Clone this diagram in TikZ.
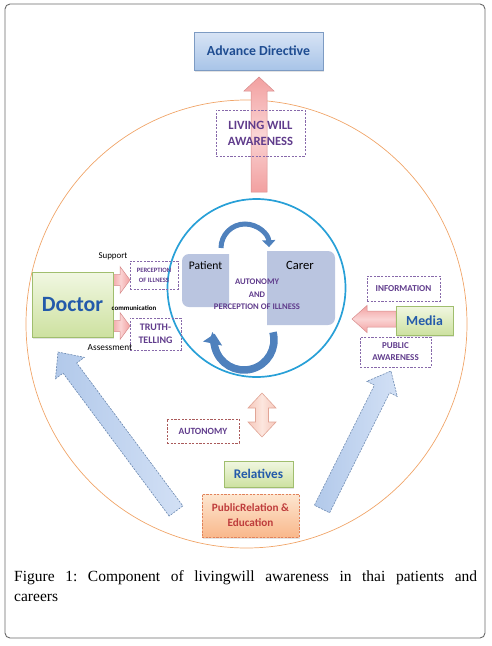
\documentclass[tikz,border=0pt]{standalone}
\usepackage{fontspec}
\setmainfont{Liberation Serif}
\newfontfamily\cbr{Carlito}
\usetikzlibrary{calc,arrows.meta,shadows}
\definecolor{frameg}{RGB}{105,105,105}
\definecolor{orng}{RGB}{240,165,105}
\definecolor{cyanc}{RGB}{40,160,215}
\definecolor{steel}{RGB}{79,129,189}
\definecolor{pbox}{RGB}{186,197,224}
\definecolor{purp}{RGB}{96,60,140}
\definecolor{pdash}{RGB}{135,105,170}
\definecolor{txtblue}{RGB}{35,90,170}
\definecolor{adtop}{RGB}{216,228,245}
\definecolor{adbot}{RGB}{168,196,232}
\definecolor{adline}{RGB}{125,155,195}
\definecolor{grtop}{RGB}{241,247,226}
\definecolor{grbot}{RGB}{205,225,160}
\definecolor{grline}{RGB}{160,190,110}
\definecolor{pkA}{RGB}{242,160,160}
\definecolor{pkB}{RGB}{250,212,212}
\definecolor{pkline}{RGB}{215,140,140}
\definecolor{peA}{RGB}{246,200,188}
\definecolor{peB}{RGB}{252,230,222}
\definecolor{peline}{RGB}{225,165,150}
\definecolor{blA}{RGB}{178,201,234}
\definecolor{blB}{RGB}{210,224,245}
\definecolor{blline}{RGB}{105,135,175}
\definecolor{ortop}{RGB}{253,230,208}
\definecolor{orbot}{RGB}{249,184,140}
\definecolor{orline}{RGB}{225,130,90}
\definecolor{redtxt}{RGB}{190,60,60}
\definecolor{autline}{RGB}{170,90,90}
\tikzset{
  solidbox/.style={draw, line width=0.6pt, inner sep=0pt, align=center},
  shad/.style={drop shadow={opacity=0.22, shadow xshift=1pt, shadow yshift=-1.5pt}},
  adbox/.style={solidbox, shad, draw=adline, top color=adtop, bottom color=adbot,
    font=\cbr\bfseries\fontsize{13.8}{15}\selectfont, text=txtblue!85!black},
  greenbox/.style={solidbox, shad, draw=grline, top color=grtop, bottom color=grbot, text=txtblue},
  orbox/.style={solidbox, shad, draw=orline, dash pattern=on 2.2pt off 1.4pt, top color=ortop, bottom color=orbot,
    text=redtxt, font=\cbr\bfseries\fontsize{11.2}{15}\selectfont},
  dbox/.style={draw=pdash, dash pattern=on 2.2pt off 1.4pt, line width=0.6pt, inner sep=0pt, align=center,
    text=purp, font=\cbr\bfseries\fontsize{8.5}{11}\selectfont},
  ctext/.style={inner sep=0pt, text=purp, font=\cbr\bfseries\fontsize{8.6}{9}\selectfont},
  lbl/.style={inner sep=0pt, text=black, font=\cbr\fontsize{8.9}{9}\selectfont},
  pinkarrow/.style={draw=pkline, line width=0.5pt, left color=pkA, right color=pkA, middle color=pkB},
  vpinkarrow/.style={draw=pkline, line width=0.5pt, top color=pkA, bottom color=pkA, middle color=pkB},
  peacharrow/.style={draw=peline, line width=0.6pt, left color=peA, right color=peA, middle color=peB},
  bluearrow/.style={draw=blline, dash pattern=on 2pt off 1.2pt, line width=0.6pt, left color=blA, right color=blB},
  arcarrow/.style={steel, line cap=butt},
}
% #1 style, #2 tail, #3 tip, #4 shaft half width, #5 head half width, #6 head length, #7 name of head base
\newcommand\blkarrow[7]{%
  \coordinate (#7) at ($(#3)!#6!(#2)$);
  \path[#1] ($(#2)!#4!90:(#3)$) -- ($(#7)!#4!-90:(#2)$) -- ($(#7)!#5!-90:(#2)$) -- (#3)
    -- ($(#7)!#5!90:(#2)$) -- ($(#7)!#4!90:(#2)$) -- ($(#2)!#4!-90:(#3)$) -- cycle;
}
\begin{document}
\frenchspacing
\begin{tikzpicture}[x=1pt,y=1pt]
\useasboundingbox (0,0) rectangle (491,-646);
% frame
\draw[frameg, line width=0.9pt, rounded corners=5pt] (5,-4) rectangle (485,-638);
% circles
\draw[orng, line width=0.7pt] (246.5,-324) ellipse [x radius=220.5, y radius=224];
% patient / carer
\fill[pbox] (229,-254) -- (189,-254) arc[start angle=90, end angle=180, radius=7]
  -- (182,-300) arc[start angle=180, end angle=270, radius=7] -- (229,-307) -- cycle;
\fill[pbox] (267,-251) -- (328,-251) arc[start angle=90, end angle=0, radius=7]
  -- (335,-318) arc[start angle=0, end angle=-90, radius=7] -- (267,-325) -- cycle;
\draw[cyanc, line width=1.7pt] (256.5,-288) circle [radius=89];
\node[lbl, font=\cbr\fontsize{11.6}{12}\selectfont] (patient) at (205.5,-266) {Patient};
\node[lbl, font=\cbr\fontsize{12.6}{13}\selectfont] (carer) at (300,-265) {Carer};
\node[ctext] (c1) at (257,-282) {AUTONOMY};
\node[ctext] (c2) at (257,-294.5) {AND};
\node[ctext] (c3) at (257,-307) {PERCEPTION OF ILLNESS};
% circular arrows
\draw[arcarrow, line width=5pt, -{Triangle[length=7pt,width=13pt]}] (221,-248) arc[start angle=180, end angle=2, radius=24];
\draw[arcarrow, line width=7.5pt, -{Triangle[length=10pt,width=19pt]}] (272.98,-332.24) arc[start angle=15, end angle=-192, radius=30];
% up arrow to advance directive
\coordinate (upt) at (259,-192);
\coordinate (uph) at (259,-77);
\blkarrow{vpinkarrow}{upt}{uph}{8pt}{15pt}{14pt}{upb}
\node[dbox, minimum width=89pt, minimum height=46pt, font=\cbr\bfseries\fontsize{12.6}{16}\selectfont] (lwa) at (260.5,-133) {LIVING WILL\\AWARENESS};
\node[adbox, minimum width=129pt, minimum height=38pt] (ad) at (258.5,-51) {Advance Directive};
% doctor
\coordinate (d1t) at (111,-280);
\coordinate (d1h) at (130,-280);
\coordinate (d2t) at (111,-326);
\coordinate (d2h) at (130,-326);
\blkarrow{pinkarrow}{d1t}{d1h}{5.5pt}{13.5pt}{10pt}{d1b}
\blkarrow{pinkarrow}{d2t}{d2h}{5.5pt}{13.5pt}{10pt}{d2b}
\node[greenbox, minimum width=81pt, minimum height=65pt, font=\cbr\bfseries\fontsize{21.8}{22}\selectfont] (doctor) at (72.5,-304.5) {Doctor};
\node[dbox, minimum width=48pt, minimum height=28pt, font=\cbr\bfseries\fontsize{6.6}{10}\selectfont] (poi) at (154,-275) {PERCEPTION\\OF ILLNESS};
\node[dbox, minimum width=51pt, minimum height=32pt, font=\cbr\bfseries\fontsize{10}{12.5}\selectfont] (truth) at (155.5,-334) {TRUTH-\\TELLING};
\node[lbl] (support) at (113,-256) {Support};
\node[lbl, font=\cbr\bfseries\fontsize{6.9}{7}\selectfont] (comm) at (134,-308) {communication};
\node[lbl, font=\cbr\fontsize{9.3}{10}\selectfont] (assess) at (110,-348) {Assessment};
% media
\coordinate (mt) at (396,-319);
\coordinate (mh) at (352,-319);
\blkarrow{vpinkarrow}{mt}{mh}{8pt}{13.5pt}{15pt}{mb}
\node[greenbox, minimum width=57pt, minimum height=29pt, font=\cbr\bfseries\fontsize{13.8}{14}\selectfont] (media) at (424.5,-320.5) {Media};
\node[dbox, minimum width=73pt, minimum height=25pt, font=\cbr\bfseries\fontsize{9.1}{10}\selectfont] (info) at (403.5,-288.5) {INFORMATION};
\node[dbox, minimum width=71pt, minimum height=30pt, font=\cbr\bfseries\fontsize{9}{12}\selectfont] (pubaw) at (395.5,-352) {PUBLIC\\AWARENESS};
% big blue arrows
\coordinate (lbt) at (176,-511);
\coordinate (lbh) at (58,-352);
\coordinate (rbt) at (322,-509);
\coordinate (rbh) at (391,-371);
\blkarrow{bluearrow}{lbt}{lbh}{8.5pt}{18pt}{20pt}{lbb}
\blkarrow{bluearrow}{rbt}{rbh}{8.5pt}{17pt}{20pt}{rbb}
% relatives double arrow
\path[peacharrow] (262,-393) -- (276,-408) -- (268.5,-408) -- (268.5,-422) -- (276,-422) -- (262,-437)
  -- (248,-422) -- (255.5,-422) -- (255.5,-408) -- (248,-408) -- cycle;
\node[dbox, draw=autline, minimum width=72pt, minimum height=24pt, font=\cbr\bfseries\fontsize{9.5}{10}\selectfont] (aut) at (203,-431) {AUTONOMY};
\node[greenbox, minimum width=69pt, minimum height=26pt, font=\cbr\bfseries\fontsize{13.2}{14}\selectfont] (rel) at (258.5,-474) {Relatives};
\node[orbox, minimum width=97pt, minimum height=43pt] (pre) at (250.5,-515.5) {PublicRelation \&\\Education};
% caption
\node[anchor=north west, text width=463pt, align=justify, inner sep=0pt, font=\fontsize{15.5}{20}\selectfont\frenchspacing] (cap) at (14,-570.5)
  {Figure 1: Component of livingwill awareness in thai patients and\linebreak careers};
\end{tikzpicture}
\end{document}
